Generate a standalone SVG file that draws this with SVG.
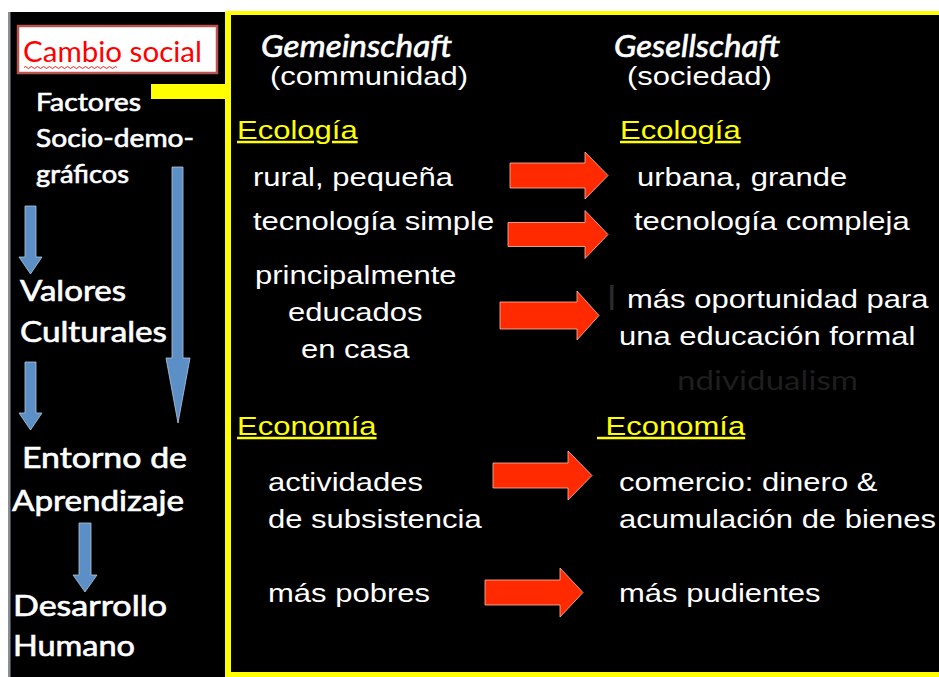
<svg xmlns="http://www.w3.org/2000/svg" width="939" height="677" viewBox="0 0 939 677">
<style>
.lt{font-family:Lato,"Open Sans","DejaVu Sans",sans-serif;fill:#ffffff;stroke:#eef3f8;stroke-width:0.7;paint-order:stroke}
.ar{font-family:"Liberation Sans",Arial,sans-serif;font-size:25px;fill:#ffffff}
.hd{fill:#ffff00;text-decoration:underline}
.ra{fill:#ff2a00;stroke:#ffbcaa;stroke-width:0.8}
.ba{fill:#5b8fc6;stroke:#b4c8dc;stroke-width:0.8}
.yl{fill:#ffff00}
.ghost{fill:#1e1e1e;stroke:none}
</style>
<rect x="0" y="0" width="939" height="677" fill="#ffffff"/>
<g id="left-panel">
<rect x="8" y="12" width="217" height="665" fill="#000000"/>
<rect x="8" y="12" width="2.5" height="665" fill="#8a8f96"/>
</g>
<g id="right-panel">
<rect x="225" y="11" width="714" height="666" fill="#000000"/>
<rect class="yl" x="225" y="11" width="714" height="4"/>
<rect class="yl" x="225" y="11" width="6" height="666"/>
<rect class="yl" x="225" y="672" width="714" height="5"/>
<rect class="yl" x="151" y="84" width="76" height="15"/>
</g>
<g id="cambio-social">
<rect x="18" y="26" width="199" height="47" fill="#ffffff" stroke="#b85450" stroke-width="2.5"/>
<text x="23" y="62" font-family="Lato,'Open Sans','DejaVu Sans',sans-serif" font-size="28" textLength="179" lengthAdjust="spacingAndGlyphs" fill="#ff0000">Cambio social</text>
<path d="M24,67.5 q1.5,-2 3,0 t3,0 t3,0 t3,0 t3,0 t3,0 t3,0 t3,0 t3,0 t3,0 t3,0 t3,0 t3,0 t3,0 t3,0 t3,0 t3,0 t3,0 t3,0 t3,0 t3,0 t3,0 t3,0 t3,0 t3,0 t3,0 t3,0 t3,0 t3,0 t3,0 t3,0" fill="none" stroke="#ff0000" stroke-width="0.9"/>
</g>
<g id="factores">
<text class="lt" x="36" y="111" font-size="25" textLength="105" lengthAdjust="spacingAndGlyphs">Factores</text>
<text class="lt" x="36" y="147" font-size="25" textLength="158" lengthAdjust="spacingAndGlyphs">Socio-demo-</text>
<text class="lt" x="36" y="183" font-size="25" textLength="93" lengthAdjust="spacingAndGlyphs">gráficos</text>
</g>
<g id="valores">
<text class="lt" x="20" y="301" font-size="29" textLength="106" lengthAdjust="spacingAndGlyphs">Valores</text>
<text class="lt" x="20" y="342" font-size="29" textLength="147" lengthAdjust="spacingAndGlyphs">Culturales</text>
</g>
<g id="entorno">
<text class="lt" x="22" y="468" font-size="29" textLength="165" lengthAdjust="spacingAndGlyphs">Entorno de</text>
<text class="lt" x="12" y="511" font-size="29" textLength="172" lengthAdjust="spacingAndGlyphs">Aprendizaje</text>
</g>
<g id="desarrollo">
<text class="lt" x="13" y="616" font-size="29" textLength="154" lengthAdjust="spacingAndGlyphs">Desarrollo</text>
<text class="lt" x="13" y="656" font-size="29" textLength="122" lengthAdjust="spacingAndGlyphs">Humano</text>
</g>
<g id="gemeinschaft">
<text class="lt" x="261" y="57" font-size="31" font-style="italic" textLength="191" lengthAdjust="spacingAndGlyphs">Gemeinschaft</text>
<text class="ar" transform="translate(270 85) scale(1.24 1)">(communidad)</text>
</g>
<g id="gesellschaft">
<text class="lt" x="614" y="57" font-size="31" font-style="italic" textLength="166" lengthAdjust="spacingAndGlyphs">Gesellschaft</text>
<text class="ar" transform="translate(627 85) scale(1.24 1)">(sociedad)</text>
</g>
<g id="ecologia-left">
<text class="ar hd" transform="translate(237 139) scale(1.24 1)">Ecología</text>
<text class="ar" transform="translate(253 186) scale(1.24 1)">rural, pequeña</text>
<text class="ar" transform="translate(253 230) scale(1.24 1)">tecnología simple</text>
<text class="ar" transform="translate(255 284) scale(1.24 1)">principalmente</text>
<text class="ar" transform="translate(288 321) scale(1.24 1)">educados</text>
<text class="ar" transform="translate(301 358) scale(1.24 1)">en casa</text>
</g>
<g id="ecologia-right">
<text class="ar hd" transform="translate(620 139) scale(1.24 1)">Ecología</text>
<text class="ar" transform="translate(637 186) scale(1.24 1)">urbana, grande</text>
<text class="ar" transform="translate(634 230) scale(1.24 1)">tecnología compleja</text>
<text class="lt ghost" x="607" y="310" font-size="34" style="fill:#2b2b2b">I</text>
<text class="ar" transform="translate(627 308) scale(1.24 1)">más oportunidad para</text>
<text class="ar" transform="translate(619 345) scale(1.24 1)">una educación formal</text>
<text class="lt ghost" x="677" y="390" font-size="27" textLength="181" lengthAdjust="spacingAndGlyphs">ndividualism</text>
</g>
<g id="economia-left">
<text class="ar hd" transform="translate(237 435) scale(1.24 1)">Economía</text>
<text class="ar" transform="translate(268 491) scale(1.24 1)">actividades</text>
<text class="ar" transform="translate(268 528) scale(1.24 1)">de subsistencia</text>
<text class="ar" transform="translate(268 602) scale(1.24 1)">más pobres</text>
</g>
<g id="economia-right">
<text class="ar hd" transform="translate(597 435) scale(1.24 1)" xml:space="preserve"> Economía</text>
<text class="ar" transform="translate(619 491) scale(1.24 1)">comercio: dinero &amp;</text>
<text class="ar" transform="translate(619 528) scale(1.24 1)">acumulación de bienes</text>
<text class="ar" transform="translate(619 602) scale(1.24 1)">más pudientes</text>
</g>
<g id="connectors">
<polygon class="ba" points="25,206 36,206 36,257 42,257 30.5,274 19,257 25,257"/>
<polygon class="ba" points="172,167 183,167 183,358 190,358 178,423 166,358 172,358"/>
<polygon class="ba" points="25,362 36,362 36,413 42,413 30.5,430 19,413 25,413"/>
<polygon class="ba" points="79,523 91,523 91,575 97,575 85,592 73,575 79,575"/>
<polygon class="ra" points="510,163 585,163 585,152 608,175.5 585,199 585,188 510,188"/>
<polygon class="ra" points="508,222.5 585,222.5 585,210.5 608,234.5 585,258.5 585,246.5 508,246.5"/>
<polygon class="ra" points="500,302 577,302 577,291 599,315.5 577,340 577,329 500,329"/>
<polygon class="ra" points="493,463 568,463 568,451 592,475.5 568,500 568,488 493,488"/>
<polygon class="ra" points="485,580 560,580 560,568 583,592.5 560,617 560,605 485,605"/>
</g>
</svg>
